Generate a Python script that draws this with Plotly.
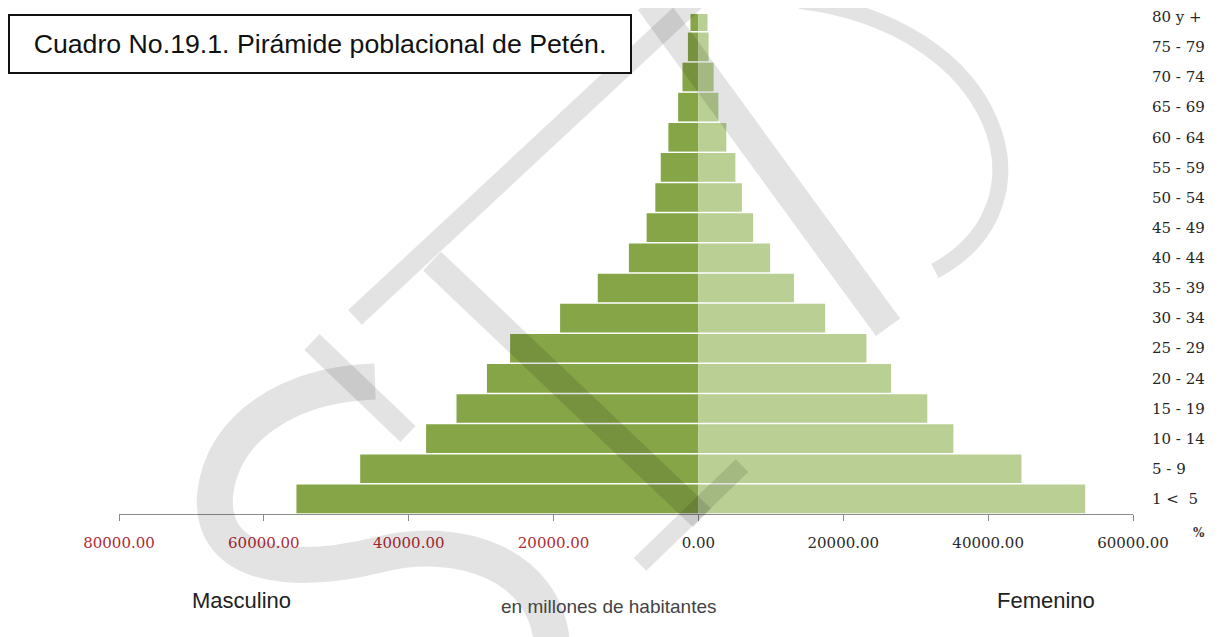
import plotly.graph_objects as go

# age groups, bottom to top
grupos = ["1 <  5", "5 - 9", "10 - 14", "15 - 19", "20 - 24", "25 - 29", "30 - 34",
          "35 - 39", "40 - 44", "45 - 49", "50 - 54", "55 - 59", "60 - 64",
          "65 - 69", "70 - 74", "75 - 79", "80 y +"]

masculino = [55500, 46700, 37600, 33400, 29200, 26000, 19100, 13900, 9600,
             7150, 5950, 5200, 4150, 2800, 2200, 1450, 1100]
femenino = [53400, 44600, 35200, 31600, 26600, 23200, 17500, 13200, 9900,
            7550, 6000, 5100, 3850, 2750, 2100, 1400, 1250]

tick_vals = [-80000, -60000, -40000, -20000, 0, 20000, 40000, 60000]
tick_text = ["80000.00", "60000.00", "40000.00", "20000.00", "0.00",
             "20000.00", "40000.00", "60000.00"]

W, H = 1232, 637
OFF = 8  # page body margin
# plot area in screen pixels
L, R, T, B = 119, 1133, 8, 514


def px(x):
    return (x - L) / (R - L)


def py(y):
    return (B - y) / (B - T)


def path(*pts):
    # screen pixel points mixed with svg path commands
    out = []
    for p in pts:
        if isinstance(p, str):
            out.append(p)
        else:
            out.append(f"{px(p[0]):.4f},{py(p[1]):.4f}")
    return " ".join(out)


fig = go.Figure()

fig.add_trace(go.Bar(
    y=grupos, x=[-v for v in masculino], orientation="h",
    marker=dict(color="#86a547", line=dict(width=0)),
    name="Masculino", showlegend=False,
))
fig.add_trace(go.Bar(
    y=grupos, x=femenino, orientation="h",
    marker=dict(color="#b9cf93", line=dict(width=0)),
    name="Femenino", showlegend=False,
))

# red labels on the male side, gray on the female side
labels = []
for v, t in zip(tick_vals, tick_text):
    color = "#b02a35" if v < 0 else "#2a2a2a"
    labels.append(f"<span style='color:{color}'>{t}</span>")

fig.update_layout(
    width=W, height=H,
    margin=dict(l=L - OFF, r=W - (R - OFF), t=T - OFF, b=H - (B - OFF)),
    paper_bgcolor="white", plot_bgcolor="white",
    barmode="relative", bargap=0.05,
    xaxis=dict(
        range=[-80000, 60000], tickvals=tick_vals, ticktext=labels,
        showline=True, linecolor="#8c8c8c", linewidth=1,
        ticks="outside", ticklen=6, tickcolor="#8c8c8c",
        showgrid=False, zeroline=False,
        tickfont=dict(family="DejaVu Serif", size=15, color="#2a2a2a"),
        ticklabelstandoff=9,
    ),
    yaxis=dict(
        range=[-0.5, -0.5 + (B - T) / 30.5], side="right", showline=False,
        showgrid=False, zeroline=False, ticks="", ticklabelstandoff=18,
        tickfont=dict(family="DejaVu Serif", size=15, color="#262626"),
    ),
)

# faint "SNP" watermark strokes, drawn over the bars
wm = "rgba(0,0,0,0.11)"
strokes = [
    (path("M", (355, 315), "L", (700, -10)), 20),
    (path("M", (432, 258), "L", (702, 518)), 26),
    (path("M", (650, -5), "L", (888, 325)), 30),
    (path("M", (742, 465), "L", (640, 565)), 18),
    (path("M", (312, 340), "L", (408, 433)), 22),
    (path("M", (375, 380), "C", (290, 383), (222, 425), (215, 495),
          "C", (210, 572), (300, 575), (380, 555),
          "C", (460, 535), (545, 565), (552, 645)), 36),
    (path("M", (800, -5), "C", (1000, 20), (1060, 200), (935, 268)), 16),
]
for d, w in strokes:
    fig.add_shape(type="path", path=d, xref="paper", yref="paper",
                  line=dict(color=wm, width=w), fillcolor="rgba(0,0,0,0)",
                  layer="above")

# title box
fig.add_annotation(
    x=px(320), y=py(38), xref="paper", yref="paper", showarrow=False,
    text="Cuadro No.19.1. Pirámide poblacional de Petén.",
    font=dict(family="Liberation Sans", size=26.7, color="#111111"),
    width=618, height=54, bordercolor="#111111", borderwidth=2,
    bgcolor="white", xanchor="center", yanchor="middle",
)

notes = [
    ("Masculino", 241, 602, dict(family="Liberation Sans", size=22, color="#222222")),
    ("Femenino", 1046, 602, dict(family="Liberation Sans", size=22, color="#222222")),
    ("en millones de habitantes", 608, 608,
     dict(family="Liberation Sans", size=19, color="#444444")),
    ("<b>%</b>", 1199, 533, dict(family="DejaVu Serif", size=12, color="#333333")),
]
for text, x, y, f in notes:
    fig.add_annotation(x=px(x), y=py(y), xref="paper", yref="paper", showarrow=False,
                       text=text, font=f, xanchor="center", yanchor="middle")

fig.write_html("out.html")
